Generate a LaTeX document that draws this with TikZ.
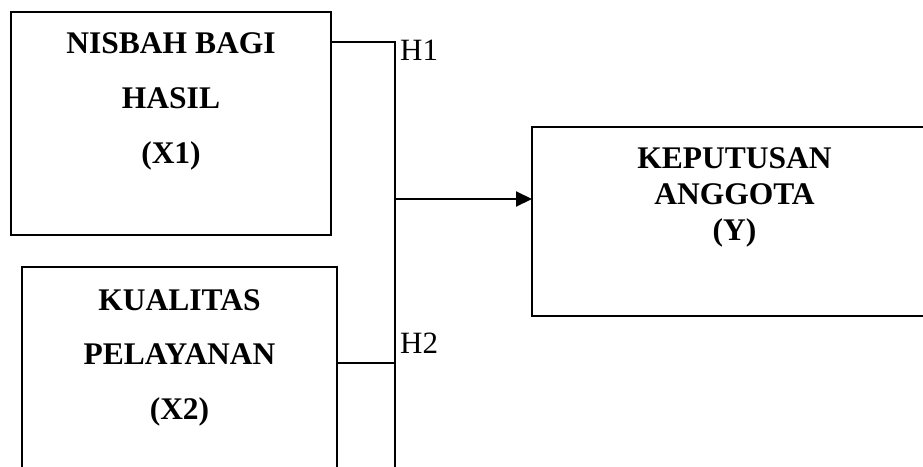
\documentclass[tikz,border=0pt]{standalone}
\usepackage{fontspec}
\setmainfont{Liberation Serif}
\usetikzlibrary{arrows.meta}
\tikzset{
  boxnode/.style={draw, line width=2pt, inner sep=0pt, outer sep=0pt},
  boxtext/.style={anchor=base, inner sep=0pt, font=\fontsize{31.5}{37}\selectfont\bfseries},
  hlabel/.style={anchor=base west, inner sep=0pt, font=\fontsize{31}{37}\selectfont},
  conn/.style={line width=2pt},
}
\begin{document}
\begin{tikzpicture}[x=1pt,y=-1pt]
\useasboundingbox (0,0) rectangle (923,466);
% boxes
\node[boxnode, minimum width=320pt, minimum height=223pt] (x1) at (171,123.5) {};
\node[boxnode, minimum width=315pt, minimum height=213pt] (x2) at (179.5,373.5) {};
\node[boxnode, minimum width=440pt, minimum height=189pt] (y) at (752,221.5) {};
% texts
\node[boxtext] (x1a) at (171,53) {NISBAH BAGI};
\node[boxtext] (x1b) at (171,108) {HASIL};
\node[boxtext] (x1c) at (171,163) {(X1)};
\node[boxtext] (x2a) at (179.5,310) {KUALITAS};
\node[boxtext] (x2b) at (179.5,364) {PELAYANAN};
\node[boxtext] (x2c) at (179.5,419) {(X2)};
\node[boxtext] (ya) at (734.5,168) {KEPUTUSAN};
\node[boxtext] (yb) at (734.5,204) {ANGGOTA};
\node[boxtext] (yc) at (734.5,240) {(Y)};
\node[hlabel] (h1) at (400,60) {H1};
\node[hlabel] (h2) at (400,353) {H2};
% connectors
\coordinate (j1) at (395,42);
\coordinate (j2) at (395,363);
\coordinate (ja) at (395,199);
\coordinate (jb) at (395,480);
\draw[conn] (x1.east |- j1) -- (j1) -- (jb);
\draw[conn] (x2.east |- j2) -- (j2);
\draw[conn, -{Triangle[length=16pt,width=15pt]}] (ja) -- (ja -| y.west);
\end{tikzpicture}
\end{document}
